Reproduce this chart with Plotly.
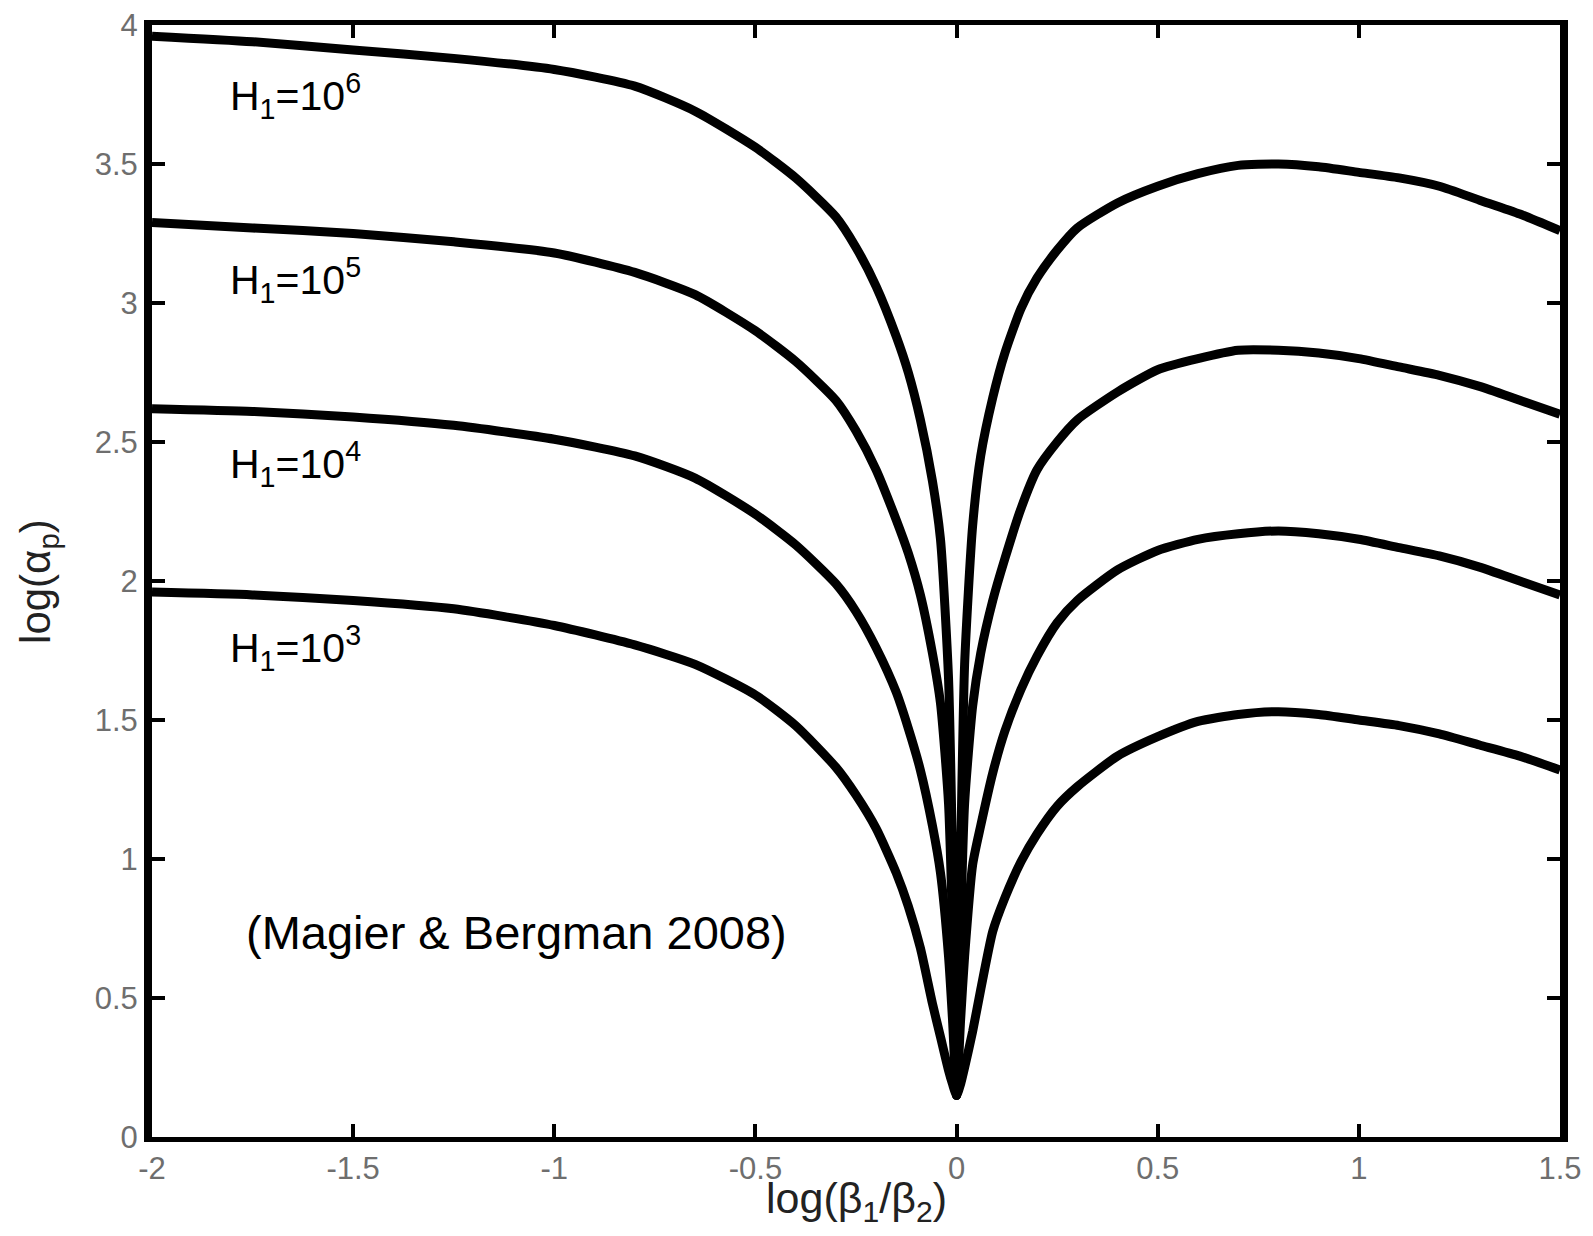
import plotly.graph_objects as go

# x grid: log(beta1/beta2)
x_vals = [-2.0, -1.75, -1.5, -1.25, -1.0, -0.8, -0.65, -0.5, -0.4, -0.3, -0.25, -0.2, -0.15, -0.12,
          -0.09, -0.06, -0.04, -0.02, -0.01, 0.0, 0.01, 0.02, 0.04, 0.06, 0.09, 0.12, 0.16, 0.2,
          0.25, 0.3, 0.4, 0.5, 0.6, 0.7, 0.8, 0.9, 1.0, 1.1, 1.2, 1.3, 1.4, 1.5]

# log(alpha_p) for H1 = 10^6
y_h6 = [3.96, 3.94, 3.91, 3.88, 3.84, 3.78, 3.69, 3.56, 3.45, 3.31, 3.20, 3.06, 2.88, 2.75,
        2.58, 2.36, 2.15, 1.65, 1.00, 0.15, 1.00, 1.70, 2.20, 2.45, 2.66, 2.82, 2.98, 3.09,
        3.19, 3.27, 3.36, 3.42, 3.465, 3.495, 3.50, 3.49, 3.47, 3.45, 3.42, 3.37, 3.32, 3.26]

# H1 = 10^5
y_h5 = [3.29, 3.27, 3.25, 3.22, 3.18, 3.11, 3.03, 2.90, 2.79, 2.65, 2.54, 2.40, 2.22, 2.10,
        1.95, 1.74, 1.56, 1.20, 0.75, 0.15, 0.75, 1.20, 1.55, 1.74, 1.93, 2.08, 2.26, 2.40,
        2.50, 2.58, 2.68, 2.76, 2.80, 2.83, 2.83, 2.82, 2.80, 2.77, 2.74, 2.70, 2.65, 2.60]

# H1 = 10^4
y_h4 = [2.62, 2.61, 2.59, 2.56, 2.51, 2.45, 2.37, 2.24, 2.13, 1.99, 1.89, 1.76, 1.60, 1.47,
        1.32, 1.12, 0.95, 0.65, 0.42, 0.15, 0.42, 0.65, 0.98, 1.12, 1.31, 1.46, 1.61, 1.73,
        1.85, 1.93, 2.04, 2.11, 2.15, 2.17, 2.18, 2.17, 2.15, 2.12, 2.09, 2.05, 2.00, 1.95]

# H1 = 10^3
y_h3 = [1.96, 1.95, 1.93, 1.90, 1.84, 1.77, 1.70, 1.59, 1.48, 1.33, 1.23, 1.11, 0.95, 0.83,
        0.68, 0.48, 0.36, 0.24, 0.19, 0.15, 0.19, 0.25, 0.38, 0.53, 0.74, 0.86, 0.99, 1.09,
        1.19, 1.26, 1.37, 1.44, 1.495, 1.52, 1.53, 1.52, 1.50, 1.48, 1.45, 1.41, 1.37, 1.32]

series = [y_h6, y_h5, y_h4, y_h3]
labels = ["H<sub>1</sub>=10<sup>6</sup>", "H<sub>1</sub>=10<sup>5</sup>",
          "H<sub>1</sub>=10<sup>4</sup>", "H<sub>1</sub>=10<sup>3</sup>"]
label_y = [3.745, 3.083, 2.421, 1.76]

x_ticks = [-2, -1.5, -1, -0.5, 0, 0.5, 1, 1.5]
x_ticktext = ["-2", "-1.5", "-1", "-0.5", "0", "0.5", "1", "1.5"]
y_ticks = [0, 0.5, 1, 1.5, 2, 2.5, 3, 3.5, 4]
y_ticktext = ["0", "0.5", "1", "1.5", "2", "2.5", "3", "3.5", "4"]

REG = "Liberation Sans, Arial, sans-serif"

fig = go.Figure()
for ys in series:
    fig.add_trace(go.Scatter(x=x_vals, y=ys, mode="lines",
                             line=dict(color="black", width=9, shape="spline", smoothing=0.6),
                             showlegend=False, hoverinfo="skip"))

annotations = []
for lab, yy in zip(labels, label_y):
    annotations.append(dict(x=-1.81, y=yy, xref="x", yref="y", text=lab, showarrow=False,
                            xanchor="left", yanchor="middle",
                            font=dict(family=REG, size=41, color="black")))
annotations.append(dict(x=-1.095, y=0.737, xref="x", yref="y", text="(Magier &amp; Bergman 2008)",
                        showarrow=False, xanchor="center", yanchor="middle",
                        font=dict(family=REG, size=47, color="black")))
annotations.append(dict(x=0.5, y=-0.0315, xref="paper", yref="paper",
                        text="log(β<sub>1</sub>/β<sub>2</sub>)", showarrow=False,
                        xanchor="center", yanchor="top",
                        font=dict(family=REG, size=43, color="#222")))
annotations.append(dict(x=-0.081, y=0.5, xref="paper", yref="paper",
                        text="log(α<sub>p</sub>)", showarrow=False, textangle=-90,
                        xanchor="center", yanchor="middle",
                        font=dict(family=REG, size=42, color="#222")))

fig.update_layout(
    width=1593, height=1236,
    margin=dict(l=144, r=41, t=17, b=107, autoexpand=False),
    paper_bgcolor="white", plot_bgcolor="white",
    annotations=annotations,
    xaxis=dict(range=[-2, 1.5], tickvals=x_ticks, ticktext=x_ticktext, automargin=False,
               showgrid=False, zeroline=False, showline=True, linecolor="black", linewidth=5,
               mirror="ticks", ticks="inside", ticklen=13, tickwidth=4, tickcolor="black",
               ticklabeloverflow="allow",
               tickfont=dict(family=REG, size=31, color="#6e6e6e")),
    yaxis=dict(range=[0, 4], tickvals=y_ticks, ticktext=y_ticktext, automargin=False,
               showgrid=False, zeroline=False, showline=True, linecolor="black", linewidth=8,
               mirror="ticks", ticks="inside", ticklen=13, tickwidth=4, tickcolor="black",
               ticklabeloverflow="allow",
               tickfont=dict(family=REG, size=31, color="#6e6e6e")),
)

fig.write_html("out.html")
